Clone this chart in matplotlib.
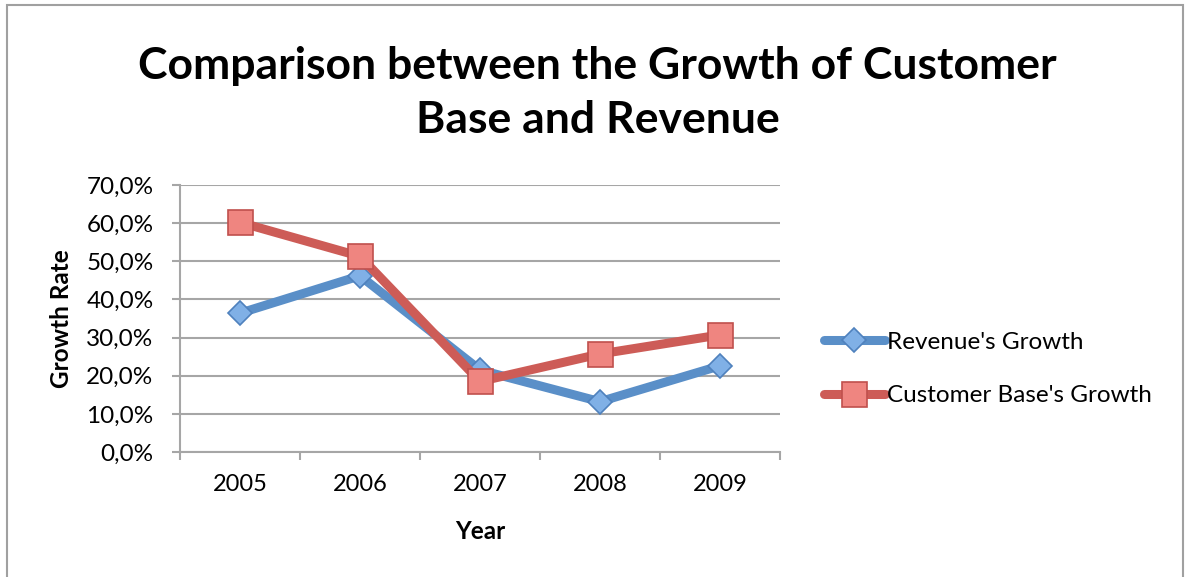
import matplotlib
matplotlib.use("Agg")
from matplotlib import pyplot as plt
from matplotlib.patches import Rectangle
from matplotlib.ticker import FuncFormatter

# growth rates per year, in percent
years = ["2005", "2006", "2007", "2008", "2009"]
revenue = [36.4, 46.2, 21.5, 13.2, 22.6]
customers = [60.2, 51.3, 18.5, 25.7, 30.7]

plt.rcParams['font.family'] = ['Lato', 'DejaVu Sans']

grid_grey = '#a6a6a6'

fig = plt.figure(figsize=(11.88, 5.77), dpi=100)
ax = fig.add_axes([180/1188, 1-452/577, 600/1188, 267/577])

x = list(range(len(years)))
ax.plot(x, revenue, color='#5a8fc8', lw=6.5, solid_capstyle='round',
        marker='D', ms=12.5, mfc='#80b0e6', mec='#4f81bd', mew=1.2,
        zorder=3, label="Revenue's Growth")
ax.plot(x, customers, color='#cd5c57', lw=6.5, solid_capstyle='round',
        marker='s', ms=18, mfc='#ef8580', mec='#c0504d', mew=1.2,
        zorder=4, label="Customer Base's Growth")

ax.set_xlim(-0.5, len(years) - 0.5)
ax.set_ylim(0, 70)
ax.set_yticks(range(0, 71, 10))
ax.yaxis.set_major_formatter(FuncFormatter(lambda v, p: f"{v:.1f}%".replace('.', ',')))
ax.set_xticks(x)
ax.set_xticklabels(years)
ax.set_xticks([i - 0.5 for i in range(len(years) + 1)], minor=True)

ax.grid(axis='y', color=grid_grey, lw=1.5)
ax.set_axisbelow(True)
for s in ['top', 'right']:
    ax.spines[s].set_visible(False)
for s in ['left', 'bottom']:
    ax.spines[s].set_color(grid_grey)
    ax.spines[s].set_linewidth(1.5)

ax.tick_params(axis='y', length=6, width=1.5, color=grid_grey, pad=13, labelsize=17.5)
ax.tick_params(axis='x', which='major', length=0, pad=16, labelsize=17)
ax.tick_params(axis='x', which='minor', length=6, width=1.5, color=grid_grey)

ax.set_ylabel('Growth Rate', fontsize=17.5, fontweight='bold')
ax.yaxis.set_label_coords(-0.178, 0.5)
ax.set_xlabel('Year', fontsize=17.5, fontweight='bold')
ax.xaxis.set_label_coords(0.5, -0.255)

fig.text(0.503, 1-93/577, 'Comparison between the Growth of Customer\nBase and Revenue',
         ha='center', va='center', fontsize=32, fontweight='bold', linespacing=1.42)

fig.legend(loc='center left', bbox_to_anchor=(824/1188, 1-369/577), frameon=False,
           fontsize=17.5, handlelength=2.5, handletextpad=0.1, labelspacing=1.35,
           borderaxespad=0, borderpad=0)

# outer chart frame
fig.patches.append(Rectangle((7/1188, -0.05), 1176/1188, 1.05 - 5/577,
                             transform=fig.transFigure, fill=False,
                             edgecolor='#a0a0a0', lw=1.5))

fig.savefig('out.png', dpi=100)
